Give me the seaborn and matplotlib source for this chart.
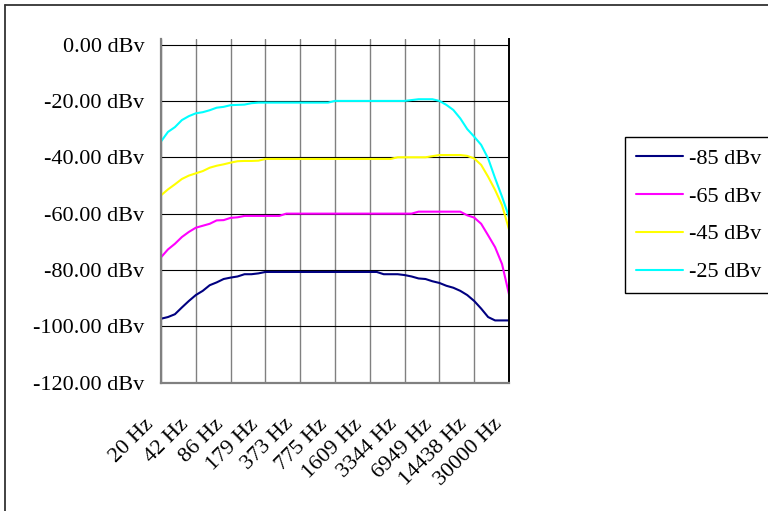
import numpy as np
import pandas as pd
import seaborn as sns
import matplotlib.pyplot as plt
from matplotlib.lines import Line2D
from matplotlib.transforms import ScaledTranslation

# category labels shown every 5th measurement point
freq_labels = ['20 Hz', '42 Hz', '86 Hz', '179 Hz', '373 Hz', '775 Hz',
               '1609 Hz', '3344 Hz', '6949 Hz', '14438 Hz', '30000 Hz']
level_names = ['-85 dBv', '-65 dBv', '-45 dBv', '-25 dBv']
level_colors = ['#000080', '#ff00ff', '#ffff00', '#00ffff']

resp_85 = [-97.3, -96.7, -95.7, -93.3, -91.0, -88.9, -87.4, -85.4, -84.4, -83.2,
           -82.7, -82.3, -81.5, -81.5, -81.2, -80.7, -80.7, -80.7, -80.7, -80.7,
           -80.7, -80.7, -80.7, -80.7, -80.7, -80.7, -80.7, -80.7, -80.7, -80.7,
           -80.7, -80.7, -81.5, -81.5, -81.5, -81.8, -82.3, -83.0, -83.2, -84.0,
           -84.6, -85.6, -86.3, -87.4, -88.9, -91.0, -93.7, -96.7, -97.9, -97.9,
           -97.9]
resp_65 = [-75.5, -72.7, -70.7, -68.3, -66.5, -65.0, -64.3, -63.6, -62.4, -62.3,
           -61.5, -61.3, -60.8, -60.8, -60.8, -60.8, -60.8, -60.8, -60.0, -60.0,
           -60.0, -60.0, -60.0, -60.0, -60.0, -60.0, -60.0, -60.0, -60.0, -60.0,
           -60.0, -60.0, -60.0, -60.0, -60.0, -60.0, -60.0, -59.3, -59.3, -59.3,
           -59.3, -59.3, -59.3, -59.3, -60.6, -61.4, -63.6, -67.7, -71.9, -77.9,
           -88.6]
resp_45 = [-53.5, -51.4, -49.6, -47.7, -46.5, -45.7, -44.9, -43.7, -43.0, -42.5,
           -41.9, -41.4, -41.3, -41.3, -41.2, -40.6, -40.6, -40.6, -40.6, -40.6,
           -40.6, -40.6, -40.6, -40.6, -40.6, -40.6, -40.6, -40.6, -40.6, -40.6,
           -40.6, -40.6, -40.6, -40.6, -40.0, -40.0, -40.0, -40.0, -40.0, -39.6,
           -39.2, -39.2, -39.2, -39.2, -39.5, -40.4, -42.7, -46.9, -51.6, -57.0,
           -65.6]
resp_25 = [-34.4, -31.0, -29.3, -26.8, -25.4, -24.4, -24.0, -23.3, -22.4, -22.1,
           -21.5, -21.4, -21.3, -20.8, -20.6, -20.6, -20.6, -20.6, -20.6, -20.6,
           -20.6, -20.6, -20.6, -20.6, -20.6, -20.0, -20.0, -20.0, -20.0, -20.0,
           -20.0, -20.0, -20.0, -20.0, -20.0, -20.0, -19.7, -19.4, -19.4, -19.4,
           -20.0, -21.4, -23.2, -26.2, -30.0, -32.7, -35.6, -40.4, -47.4, -54.0,
           -61.2]
y_ticks = [-120, -100, -80, -60, -40, -20, 0]

sns.set_style('white')
plt.rcParams['font.family'] = ['Liberation Serif', 'DejaVu Serif']
plt.rcParams['text.color'] = 'black'
plt.rcParams['xtick.color'] = 'black'
plt.rcParams['ytick.color'] = 'black'
fs = 16

n = len(resp_85)
df = pd.DataFrame({
    'step': np.tile(np.arange(n), 4),
    'level': np.repeat(level_names, n),
    'dbv': resp_85 + resp_65 + resp_45 + resp_25,
})

fig = plt.figure(figsize=(7.68, 5.11), dpi=100)
ax = fig.add_axes([161 / 768, 1 - 382.7 / 511, 348 / 768, (382.7 - 39.5) / 511])

sns.lineplot(data=df, x='step', y='dbv', hue='level', palette=level_colors,
             linewidth=1.5, ax=ax)

ax.set_xlim(0, n - 1)
ax.set_ylim(-120, 1.8)
ax.set_xticks(np.arange(0, n, 5))
ax.set_xticklabels(freq_labels, rotation=45, ha='right', va='center',
                   rotation_mode='anchor', fontsize=fs)
ax.set_yticks(y_ticks)
ax.set_yticklabels([f'{v:.2f} dBv' for v in y_ticks], fontsize=fs)
ax.tick_params(axis='x', length=0, pad=28, labelcolor='black')
ax.tick_params(axis='y', length=0, pad=12, labelcolor='black')
shift = ScaledTranslation(-10 / 100, 0, fig.dpi_scale_trans)
for lab in ax.get_xticklabels():
    lab.set_transform(lab.get_transform() + shift)

ax.grid(axis='x', color='#808080', linewidth=1.0)
ax.grid(axis='y', color='black', linewidth=0.8)
ax.set_xlabel('')
ax.set_ylabel('')

ax.spines['top'].set_visible(False)
for side in ['left', 'bottom']:
    ax.spines[side].set_color('#808080')
    ax.spines[side].set_linewidth(1.6)
ax.spines['right'].set_color('black')
ax.spines['right'].set_linewidth(1.4)

leg = ax.legend(loc='upper left', bbox_to_anchor=(625 / 768, 1 - 137 / 511),
                bbox_transform=fig.transFigure, frameon=True, fancybox=False,
                edgecolor='black', framealpha=1, fontsize=fs,
                handlelength=2.1, handletextpad=0.3, labelspacing=0.78,
                borderpad=0.5, borderaxespad=0, labelcolor='black')
leg.get_frame().set_linewidth(1.0)

# outer chart border (only left and top edges fall inside the image)
fig.add_artist(Line2D([4.5 / 768, 4.5 / 768], [0, 1 - 5 / 511],
                      transform=fig.transFigure, color='#333333', lw=1.3))
fig.add_artist(Line2D([4.5 / 768, 1], [1 - 5 / 511, 1 - 5 / 511],
                      transform=fig.transFigure, color='#333333', lw=1.3))

fig.savefig('out.png', dpi=100)
